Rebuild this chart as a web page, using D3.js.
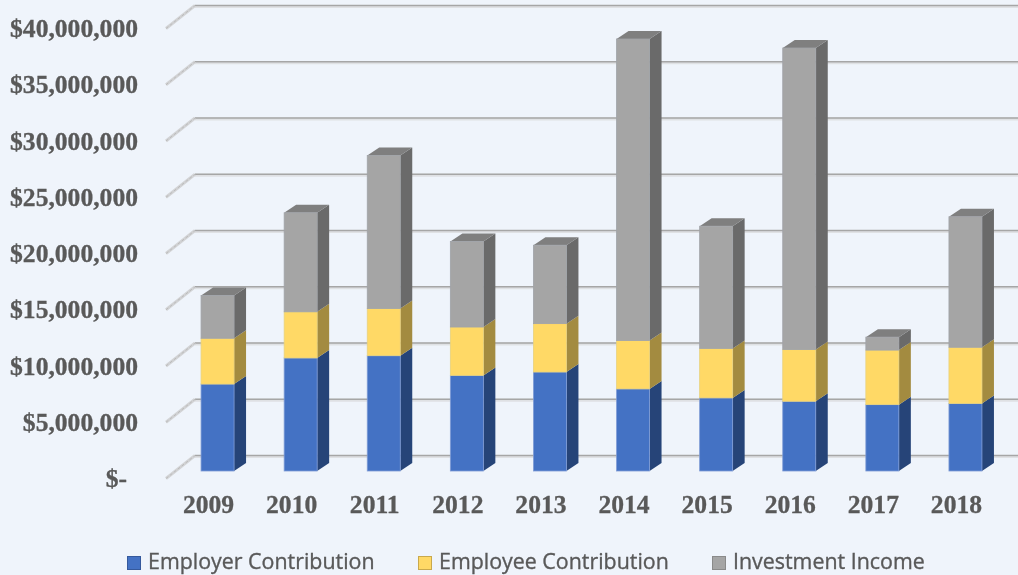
<!DOCTYPE html>
<html lang="en">
<head>
  <meta charset="UTF-8">
  <title>contributions</title>
  <script src="https://cdn.jsdelivr.net/npm/d3@7"></script>
  <style>
    html, body { margin: 0; padding: 0; background: #eff4fb; overflow: hidden; }
    svg { display: block; filter: blur(0.45px); }
  </style>
</head>
<body>
<svg></svg>
<script>
  const years = ['2009', '2010', '2011', '2012', '2013', '2014', '2015', '2016', '2017', '2018']
  const employer = [7730000, 10050000, 10250000, 8500000, 8800000, 7300000, 6500000, 6200000, 5900000, 6000000]
  const employee = [4070000, 4100000, 4200000, 4300000, 4300000, 4300000, 4400000, 4600000, 4850000, 5000000]
  const investment = [3800000, 8800000, 13600000, 7600000, 6970000, 26800000, 10860000, 26800000, 1150000, 11600000]
  const seriesNames = ['Employer Contribution', 'Employee Contribution', 'Investment Income']
  const yTicks = [0, 5000000, 10000000, 15000000, 20000000, 25000000, 30000000, 35000000, 40000000]

  const width = 1018, height = 575
  // front / side / top shades + thin outline of each series
  const colors = [
    {front: '#4472c4', side: '#264478', top: '#2f5597', edge: '#7f9cd6'},
    {front: '#ffd966', side: '#a38b40', top: '#bfa24a', edge: '#e8d27e'},
    {front: '#a5a5a5', side: '#6a6a6a', top: '#7f7f7f', edge: '#a0a3a8'}
  ]
  const swatchEdge = ['#35599c', '#c9a94c', '#8a8a8a']
  const wallDx = 29, wallDy = 23   // side wall of the 3d box
  const barDx = 12, barDy = 8      // depth of one bar
  const barW = 33

  const svg = d3.select('svg')
      .attr('width', width)
      .attr('height', height)
      .attr('viewBox', [0, 0, width, height])
      .style('background', '#eff4fb')

  const x = d3.scaleBand()
      .domain(years)
      .range([167, 998])

  // y on the front plane of the wall
  const y = d3.scaleLinear()
      .domain([0, 40000000])
      .range([478.5, 28.5])

  // gridlines on the back wall + diagonal on the side wall
  const grid = svg.append('g')
  yTicks.forEach(t => {
    const fy = y(t), by = fy - wallDy
    grid.append('path')
        .attr('fill', 'none')
        .attr('stroke', '#dfe1e4')
        .attr('stroke-width', 3)
        .attr('d', `M${166 + wallDx},${by + 1}H${width}`)
    grid.append('path')
        .attr('fill', 'none')
        .attr('stroke', '#a6a6a6')
        .attr('stroke-width', 1.4)
        .attr('d', `M${166 + wallDx},${by}H${width}`)
    grid.append('path')
        .attr('fill', 'none')
        .attr('stroke', '#d2d3d5')
        .attr('stroke-width', 3)
        .attr('d', `M${166},${fy}L${166 + wallDx},${by}`)
    grid.append('path')
        .attr('fill', 'none')
        .attr('stroke', '#b4b4b4')
        .attr('stroke-width', 0.8)
        .attr('stroke-dasharray', '3 2')
        .attr('d', `M${166},${fy}L${166 + wallDx},${by}`)
  })

  // stacked bars
  const stacked = d3.stack()
      .keys([0, 1, 2])
      .value((d, k) => d[k])(years.map((yr, i) => [employer[i], employee[i], investment[i]]))

  const floor = 7.5  // bars stand a bit behind the front edge
  stacked.forEach((layer, k) => {
    const g = svg.append('g')
    layer.forEach((d, i) => {
      const left = x(years[i]) + x.bandwidth() / 2 - barW / 2 + 9
      const right = left + barW
      const y0 = y(d[0]) - floor, y1 = y(d[1]) - floor
      g.append('path')
          .attr('fill', colors[k].side)
          .attr('d', `M${right},${y0}L${right + barDx},${y0 - barDy}V${y1 - barDy}L${right},${y1}Z`)
      if (k === 2) {
        g.append('path')
            .attr('fill', colors[k].top)
            .attr('d', `M${left},${y1}L${left + barDx},${y1 - barDy}H${right + barDx}L${right},${y1}Z`)
      }
      g.append('rect')
          .attr('x', left)
          .attr('y', y1)
          .attr('width', barW)
          .attr('height', y0 - y1)
          .attr('fill', colors[k].front)
          .attr('stroke', colors[k].edge)
          .attr('stroke-width', 0.8)
    })
  })

  // axes
  const yAxis = d3.axisLeft(y)
      .tickValues(yTicks)
      .tickSize(0)
      .tickPadding(0)
      .tickFormat(d => d === 0 ? '$-' : d3.format('$,')(d))

  const gy = svg.append('g')
      .attr('transform', 'translate(138,0)')
      .call(yAxis)
  gy.select('.domain').remove()
  gy.selectAll('text')
      .attr('dy', '0.32em')
      .attr('dx', d => d === 0 ? -11 : 0)

  const gx = svg.append('g')
      .attr('transform', 'translate(0,495)')
      .call(d3.axisBottom(x).tickSize(0).tickPadding(0))
  gx.select('.domain').remove()

  svg.selectAll('g.tick text')
      .attr('fill', '#595959')
      .attr('stroke', '#595959')
      .attr('stroke-width', 0.3)
      .style('font-family', '"Liberation Serif", serif')
      .style('font-weight', 'bold')
      .style('font-size', '25.6px')

  // legend
  const legendX = [127, 418, 712]
  const legend = svg.append('g')
  seriesNames.forEach((name, k) => {
    legend.append('rect')
        .attr('x', legendX[k] + 0.5)
        .attr('y', 556.5)
        .attr('width', 13)
        .attr('height', 13)
        .attr('fill', colors[k].front)
        .attr('stroke', swatchEdge[k])
        .attr('stroke-width', 1)
    legend.append('text')
        .attr('x', legendX[k] + 21)
        .attr('y', 569)
        .attr('fill', '#595959')
        .attr('stroke', '#595959')
        .attr('stroke-width', 0.35)
        .style('font-family', '"Open Sans", sans-serif')
        .style('font-size', '21.4px')
        .text(name)
  })
</script>
</body>
</html>
